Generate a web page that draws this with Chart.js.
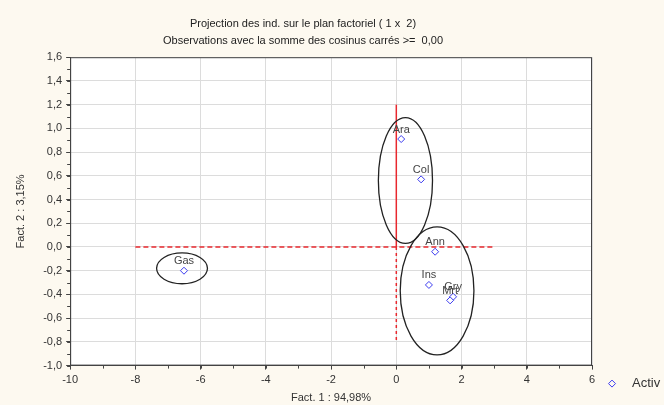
<!DOCTYPE html>
<html>
<head>
<meta charset="utf-8">
<script src="https://cdn.jsdelivr.net/npm/chart.js@4/dist/chart.umd.min.js"></script>
<style>
  html, body { margin: 0; padding: 0; background: #fdf9f0; }
  #wrap { width: 664px; height: 405px; }
</style>
</head>
<body>
<div id="wrap"><canvas id="myChart" width="664" height="405"></canvas></div>
<script>
// individuals and their coordinates on the factorial plane
var names = ["Ara", "Col", "Ann", "Ins", "Gry", "Mrt", "Gas"];
var fact1 = [0.15, 0.76, 1.19, 1.00, 1.74, 1.65, -6.51];
var fact2 = [0.91, 0.57, -0.04, -0.32, -0.42, -0.45, -0.20];

// groups circled by hand on the plot: [cx, cy, rx, ry] in data units
var groups = [
    [0.28, 0.56, 0.83, 0.53],
    [1.25, -0.37, 1.13, 0.54],
    [-6.57, -0.18, 0.78, 0.13]
];

var points = [];
for (var i = 0; i < names.length; i++) {
    points.push({ x: fact1[i], y: fact2[i] });
}

var font = "'Liberation Sans', Arial, sans-serif";

var extras = {
    id: 'extras',
    beforeDraw: function (chart) {
        var c = chart.ctx, a = chart.chartArea;
        c.save();
        c.fillStyle = '#fdf9f0';
        c.fillRect(0, 0, chart.width, chart.height);
        c.fillStyle = '#ffffff';
        c.fillRect(a.left, a.top, a.right - a.left, a.bottom - a.top);
        c.restore();
    },
    beforeDatasetsDraw: function (chart) {
        var c = chart.ctx, sx = chart.scales.x, sy = chart.scales.y, a = chart.chartArea;
        c.save();
        // frame
        c.strokeStyle = '#444';
        c.lineWidth = 1;
        c.strokeRect(a.left + 0.5, a.top + 0.5, a.right - a.left - 1, a.bottom - a.top - 1);
        // minor ticks
        c.beginPath();
        for (var v = -10; v <= 6; v += 1) {
            var px = Math.round(sx.getPixelForValue(v)) + 0.5;
            c.moveTo(px, a.bottom); c.lineTo(px, a.bottom + 3);
        }
        for (var k = -10; k <= 16; k++) {
            var py = Math.round(sy.getPixelForValue(k / 10)) + 0.5;
            c.moveTo(a.left, py); c.lineTo(a.left - 3, py);
        }
        c.stroke();
        // red reference lines
        c.strokeStyle = '#e8282e';
        c.lineWidth = 1.5;
        c.setLineDash([5, 3]);
        c.beginPath();
        c.moveTo(sx.getPixelForValue(-8), sy.getPixelForValue(0));
        c.lineTo(sx.getPixelForValue(3), sy.getPixelForValue(0));
        c.stroke();
        c.setLineDash([]);
        c.beginPath();
        c.moveTo(sx.getPixelForValue(0), sy.getPixelForValue(1.2));
        c.lineTo(sx.getPixelForValue(0), sy.getPixelForValue(0));
        c.stroke();
        c.setLineDash([3, 3]);
        c.beginPath();
        c.moveTo(sx.getPixelForValue(0), sy.getPixelForValue(0));
        c.lineTo(sx.getPixelForValue(0), sy.getPixelForValue(-0.8));
        c.stroke();
        c.restore();
    },
    afterDatasetsDraw: function (chart) {
        var c = chart.ctx, sx = chart.scales.x, sy = chart.scales.y, a = chart.chartArea;
        c.save();
        // ellipses
        c.strokeStyle = '#222';
        c.lineWidth = 1.3;
        groups.forEach(function (g) {
            var cx = sx.getPixelForValue(g[0]), cy = sy.getPixelForValue(g[1]);
            var rx = Math.abs(sx.getPixelForValue(g[0] + g[2]) - cx);
            var ry = Math.abs(sy.getPixelForValue(g[1] + g[3]) - cy);
            c.beginPath();
            c.ellipse(cx, cy, rx, ry, 0, 0, Math.PI * 2);
            c.stroke();
        });
        // point labels
        c.fillStyle = '#444';
        c.font = '11px ' + font;
        c.textAlign = 'center';
        c.textBaseline = 'bottom';
        for (var i = 0; i < names.length; i++) {
            c.fillText(names[i], sx.getPixelForValue(fact1[i]), sy.getPixelForValue(fact2[i]) - 4);
        }
        // legend
        var lx = a.right + 20, ly = a.bottom + 18;
        c.strokeStyle = '#3c3cf0';
        c.lineWidth = 1;
        c.beginPath();
        c.moveTo(lx, ly - 3.5); c.lineTo(lx + 3.5, ly); c.lineTo(lx, ly + 3.5); c.lineTo(lx - 3.5, ly); c.closePath();
        c.stroke();
        c.fillStyle = '#333';
        c.font = '13px ' + font;
        c.textAlign = 'left';
        c.textBaseline = 'middle';
        c.fillText('Activ', lx + 20, ly);
        c.restore();
    }
};

var ctx = document.getElementById("myChart");
var myChart = new Chart(ctx, {
    type: 'scatter',
    data: {
        datasets: [{
            label: 'Activ',
            data: points,
            pointStyle: 'rectRot',
            pointRadius: 3.5,
            pointBorderWidth: 1,
            borderColor: '#3c3cf0',
            backgroundColor: '#ffffff'
        }]
    },
    options: {
        responsive: false,
        animation: false,
        layout: { padding: { left: 14, right: 72, top: 0, bottom: 0 } },
        plugins: {
            legend: { display: false },
            tooltip: { enabled: false },
            title: {
                display: true,
                text: ['Projection des ind. sur le plan factoriel ( 1 x  2)',
                       'Observations avec la somme des cosinus carrés >=  0,00'],
                color: '#222',
                font: { family: font, size: 11, weight: 'normal', lineHeight: 1.6 },
                padding: { top: 15, bottom: 7 }
            }
        },
        scales: {
            x: {
                type: 'linear',
                min: -10, max: 6,
                ticks: {
                    stepSize: 2, color: '#333', padding: 4,
                    font: { family: font, size: 11 },
                    callback: function (v) { return v; }
                },
                grid: { color: '#dcdcdc', tickColor: '#444', tickLength: 4 },
                border: { color: '#444' },
                title: {
                    display: true, text: 'Fact. 1 : 94,98%', color: '#333',
                    font: { family: font, size: 11 }, padding: { top: 1, bottom: 0 }
                }
            },
            y: {
                type: 'linear',
                min: -1, max: 1.6,
                ticks: {
                    stepSize: 0.2, color: '#333', padding: 4,
                    font: { family: font, size: 11 },
                    callback: function (v) { return v.toFixed(1).replace('.', ','); }
                },
                grid: { color: '#dcdcdc', tickColor: '#444', tickLength: 4 },
                border: { color: '#444' },
                title: {
                    display: true, text: 'Fact. 2 : 3,15%', color: '#333',
                    font: { family: font, size: 11 }, padding: { top: 0, bottom: 12 }
                }
            }
        }
    },
    plugins: [extras]
});
</script>
</body>
</html>
